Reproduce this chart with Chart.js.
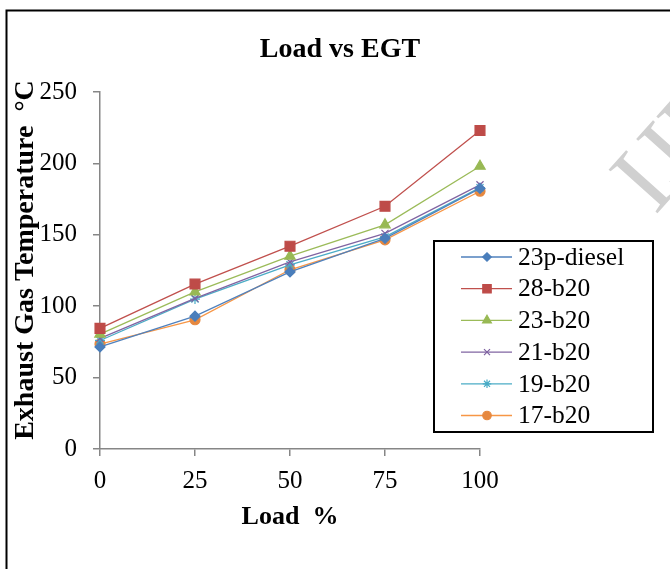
<!DOCTYPE html>
<html>
<head>
<meta charset="utf-8">
<script src="https://cdn.jsdelivr.net/npm/chart.js@4.4.0/dist/chart.umd.min.js"></script>
<style>
  html, body { margin: 0; padding: 0; background: #fff; }
  #wrap { width: 670px; height: 569px; }
</style>
</head>
<body>
<div id="wrap"><canvas id="egtChart" width="670" height="569"></canvas></div>
<script>
const loads = [0, 25, 50, 75, 100];

const p23diesel = [71.5, 93, 124, 147.5, 182.5];
const b28 = [84.5, 115.5, 142, 170, 223];
const b23 = [80.5, 110, 135, 157, 198];
const b21 = [77.5, 105.5, 131, 151, 185];
const b19 = [76, 105, 129, 148.5, 183];
const b17 = [73.5, 90.5, 125.5, 146.5, 180.5];

const seriesNames = ["23p-diesel", "28-b20", "23-b20", "21-b20", "19-b20", "17-b20"];
const seriesValues = [p23diesel, b28, b23, b21, b19, b17];

const lineColors = ["#4f81bd", "#c0504d", "#9bbb59", "#8064a2", "#4bacc6", "#f79646"];
const markColors = ["#4a7ebb", "#be4b48", "#98b954", "#7d60a0", "#46aac5", "#e6883f"];
const markStyles = ["rectRot", "rect", "triangle", "crossRot", "star", "circle"];
const markSizes = [5, 7, 6, 5, 5, 5];

const serif = "'Liberation Serif', 'Times New Roman', serif";

const datasets = seriesNames.map((name, i) => ({
  label: name,
  data: loads.map((x, j) => ({ x: x, y: seriesValues[i][j] })),
  borderColor: lineColors[i],
  backgroundColor: markColors[i],
  pointBackgroundColor: markColors[i],
  pointBorderColor: markColors[i],
  pointStyle: markStyles[i],
  pointRadius: markSizes[i],
  pointBorderWidth: 1.2,
  borderWidth: 1.3,
  tension: 0,
  fill: false,
  clip: false
}));

// title, frame, watermark and the boxed legend inside the plot
const decorations = {
  id: "decorations",
  beforeDraw(chart) {
    const ctx = chart.ctx;
    ctx.save();
    ctx.fillStyle = "#fff";
    ctx.fillRect(0, 0, chart.width, chart.height);
    ctx.translate(655, 216);
    ctx.rotate(-0.84);
    ctx.fillStyle = "#d0d0d0";
    ctx.font = "100px " + serif;
    ctx.textBaseline = "alphabetic";
    ctx.fillText("IJERT", 0, 0);
    ctx.restore();
  },
  afterDraw(chart) {
    const ctx = chart.ctx;
    ctx.save();
    ctx.strokeStyle = "#000";
    ctx.lineWidth = 2;
    ctx.beginPath();
    ctx.moveTo(6.5, chart.height);
    ctx.lineTo(6.5, 10.5);
    ctx.lineTo(chart.width, 10.5);
    ctx.stroke();

    ctx.fillStyle = "#000";
    ctx.font = "bold 28px " + serif;
    ctx.textAlign = "center";
    ctx.textBaseline = "alphabetic";
    ctx.fillText("Load vs EGT", 340, 57);

    const box = { left: 434, top: 241, right: 653, bottom: 432 };
    ctx.lineWidth = 2;
    ctx.fillStyle = "#fff";
    ctx.fillRect(box.left, box.top, box.right - box.left, box.bottom - box.top);
    ctx.strokeRect(box.left, box.top, box.right - box.left, box.bottom - box.top);

    chart.data.datasets.forEach((ds, i) => {
      const y = 257 + i * 31.7;
      ctx.strokeStyle = ds.borderColor;
      ctx.lineWidth = 1.3;
      ctx.beginPath();
      ctx.moveTo(461, y);
      ctx.lineTo(512, y);
      ctx.stroke();
      ctx.fillStyle = ds.pointBackgroundColor;
      ctx.strokeStyle = ds.pointBorderColor;
      ctx.lineWidth = 1.2;
      Chart.helpers.drawPoint(ctx, {
        pointStyle: ds.pointStyle,
        radius: ds.pointRadius * 0.85,
        rotation: 0,
        borderWidth: 1.2
      }, 487, y);
      ctx.fillStyle = "#000";
      ctx.font = "25.5px " + serif;
      ctx.textAlign = "left";
      ctx.textBaseline = "middle";
      ctx.fillText(ds.label, 518, y + 1);
    });
    ctx.restore();
  }
};

new Chart(document.getElementById("egtChart"), {
  type: "line",
  data: { datasets: datasets },
  plugins: [decorations],
  options: {
    responsive: false,
    animation: false,
    layout: { padding: { left: 8, top: 92, right: 190, bottom: 0 } },
    plugins: {
      legend: { display: false },
      title: { display: false },
      tooltip: { enabled: false }
    },
    scales: {
      x: {
        type: "linear",
        min: 0,
        max: 100,
        afterFit: (scale) => { scale.height = 120; },
        afterBuildTicks: (scale) => { scale.ticks = loads.map(v => ({ value: v })); },
        grid: { drawOnChartArea: false, tickLength: 7, color: "#868686", lineWidth: 1.5 },
        border: { color: "#868686", width: 1.5 },
        ticks: { color: "#000", font: { family: serif, size: 25 }, padding: 10, maxRotation: 0 },
        title: {
          display: true,
          text: "Load  %",
          color: "#000",
          font: { family: serif, size: 26, weight: "bold" },
          padding: { top: 0, bottom: 36 }
        }
      },
      y: {
        min: 0,
        max: 250,
        afterFit: (scale) => { scale.width = 92; },
        ticks: { stepSize: 50, color: "#000", font: { family: serif, size: 25 }, padding: 16 },
        grid: { drawOnChartArea: false, tickLength: 7, color: "#868686", lineWidth: 1.5 },
        border: { color: "#868686", width: 1.5 },
        title: {
          display: true,
          text: "   Exhaust Gas Temperature  °C",
          color: "#000",
          font: { family: serif, size: 28, weight: "bold" },
          padding: { top: 1, bottom: 0 }
        }
      }
    }
  }
});
</script>
</body>
</html>
